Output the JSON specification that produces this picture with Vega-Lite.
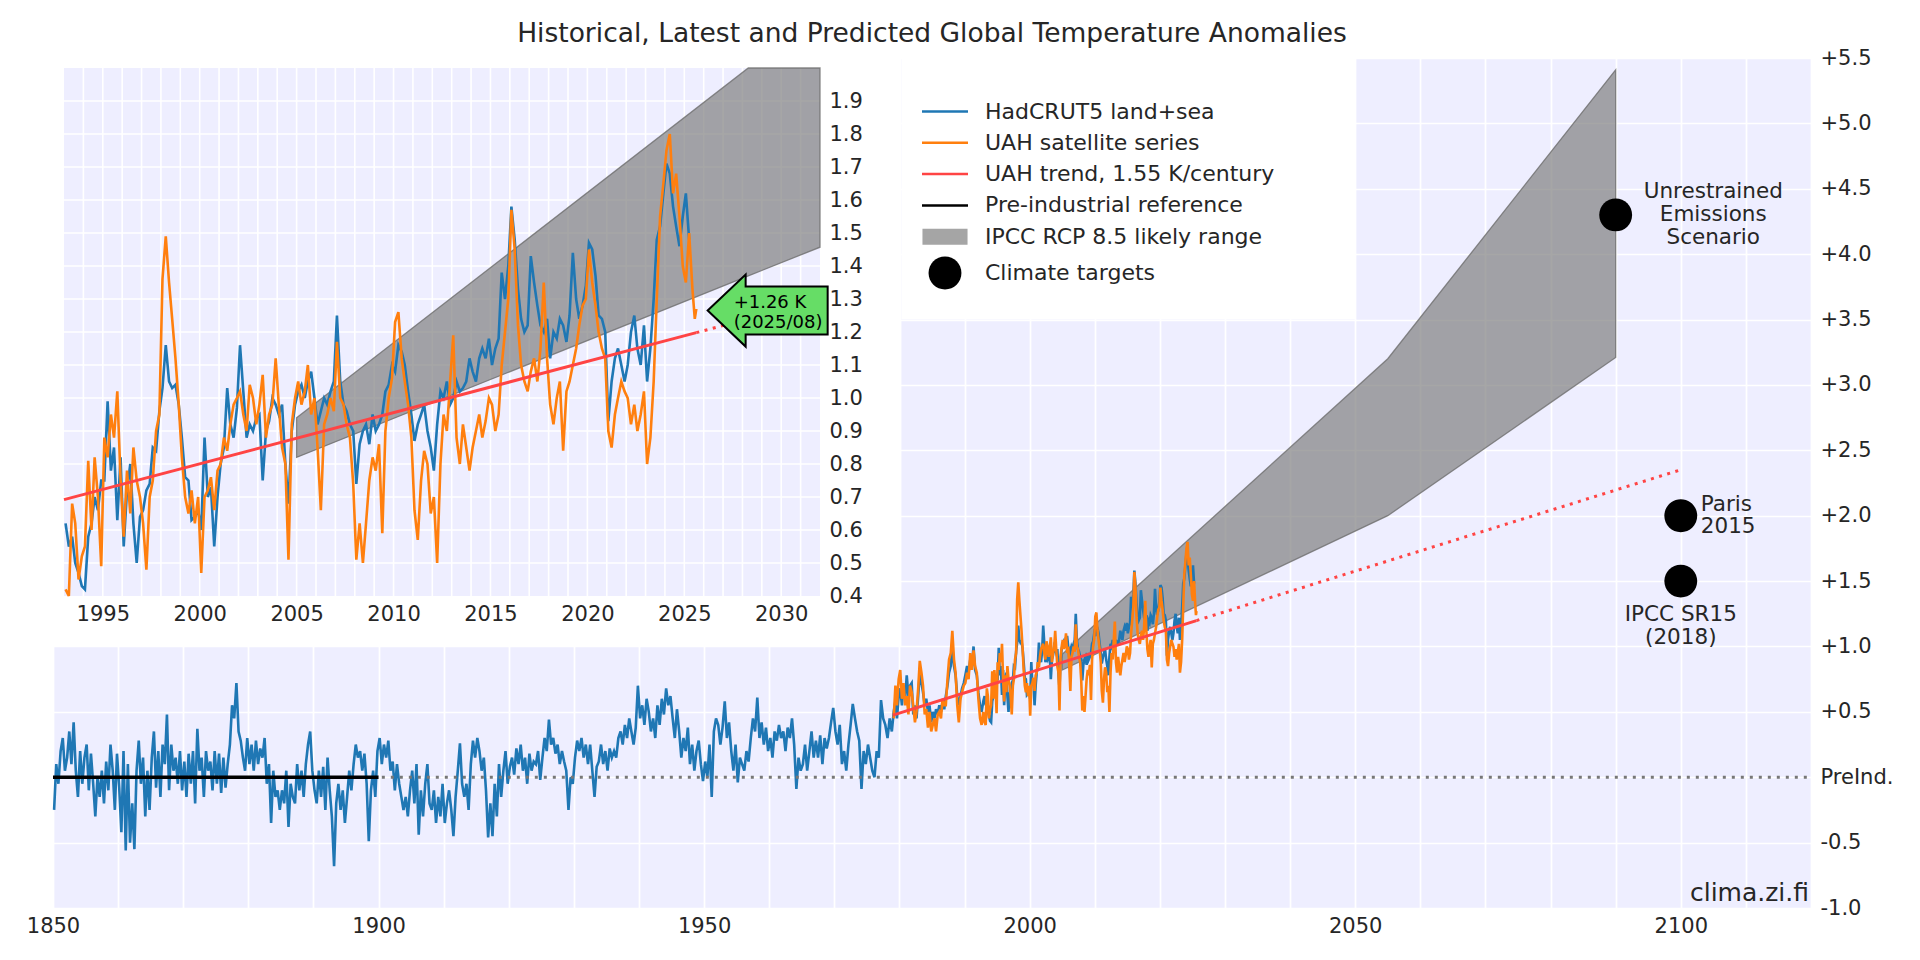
{
"$schema": "https://vega.github.io/schema/vega-lite/v6.json",
"width": 1758,
"height": 850,
"autosize": {"type": "none"},
"padding": {"left": 53, "top": 58, "right": 109, "bottom": 52},
"background": "white",
"title": {"text": "Historical, Latest and Predicted Global Temperature Anomalies", "fontSize": 26.5, "fontWeight": "normal", "color": "#262626", "font": "DejaVu Sans", "anchor": "middle", "offset": 0},
"config": {
  "view": {"stroke": null, "fill": "#eeeeff"},
  "font": "DejaVu Sans",
  "axis": {"domain": false, "ticks": false, "gridColor": "white", "gridWidth": 1.7, "gridOpacity": 1, "labelFont": "DejaVu Sans", "labelFontSize": 21, "labelColor": "#262626", "labelFlush": false, "labelOverlap": false, "labelBound": false}
},
"datasets": {
"temps": [
{"t":1850.17,"h":-0.25},{"t":1850.5,"h":0.1},{"t":1850.83,"h":-0.05},
{"t":1851.17,"h":0.2},{"t":1851.5,"h":0.3},{"t":1851.83,"h":0.05},
{"t":1852.17,"h":0.15},{"t":1852.5,"h":0.35},{"t":1852.83,"h":0.1},
{"t":1853.17,"h":0.42},{"t":1853.5,"h":0.05},{"t":1853.83,"h":-0.15},
{"t":1854.17,"h":0.2},{"t":1854.5,"h":-0.05},{"t":1854.83,"h":0.15},
{"t":1855.17,"h":0.25},{"t":1855.5,"h":-0.1},{"t":1855.83,"h":0.18},
{"t":1856.17,"h":-0.05},{"t":1856.5,"h":-0.3},{"t":1856.83,"h":0},
{"t":1857.17,"h":-0.15},{"t":1857.5,"h":0.05},{"t":1857.83,"h":-0.2},
{"t":1858.17,"h":0.12},{"t":1858.5,"h":-0.1},{"t":1858.83,"h":0.25},
{"t":1859.17,"h":0.05},{"t":1859.5,"h":-0.25},{"t":1859.83,"h":0.18},
{"t":1860.17,"h":-0.08},{"t":1860.5,"h":-0.42},{"t":1860.83,"h":0.2},
{"t":1861.17,"h":-0.56},{"t":1861.5,"h":0.1},{"t":1861.83,"h":-0.5},
{"t":1862.17,"h":-0.2},{"t":1862.5,"h":-0.55},{"t":1862.83,"h":0.05},
{"t":1863.17,"h":0.28},{"t":1863.5,"h":-0.05},{"t":1863.83,"h":0.15},
{"t":1864.17,"h":-0.3},{"t":1864.5,"h":0.05},{"t":1864.83,"h":-0.25},
{"t":1865.17,"h":0.15},{"t":1865.5,"h":0.35},{"t":1865.83,"h":-0.08},
{"t":1866.17,"h":0.2},{"t":1866.5,"h":-0.15},{"t":1866.83,"h":0.25},
{"t":1867.17,"h":0.1},{"t":1867.5,"h":0.48},{"t":1867.83,"h":-0.1},
{"t":1868.17,"h":0.25},{"t":1868.5,"h":0.05},{"t":1868.83,"h":0.15},
{"t":1869.17,"h":-0.05},{"t":1869.5,"h":0.2},{"t":1869.83,"h":-0.1},
{"t":1870.17,"h":0.12},{"t":1870.5,"h":-0.15},{"t":1870.83,"h":0.18},
{"t":1871.17,"h":-0.05},{"t":1871.5,"h":0.2},{"t":1871.83,"h":-0.2},
{"t":1872.17,"h":0.37},{"t":1872.5,"h":0.05},{"t":1872.83,"h":0.15},
{"t":1873.17,"h":-0.15},{"t":1873.5,"h":0.2},{"t":1873.83,"h":0.05},
{"t":1874.17,"h":0.12},{"t":1874.5,"h":-0.1},{"t":1874.83,"h":0.2},
{"t":1875.17,"h":-0.05},{"t":1875.5,"h":0.18},{"t":1875.83,"h":-0.12},
{"t":1876.17,"h":0.15},{"t":1876.5,"h":-0.08},{"t":1876.83,"h":0.1},
{"t":1877.17,"h":0.25},{"t":1877.5,"h":0.55},{"t":1877.83,"h":0.45},
{"t":1878.17,"h":0.72},{"t":1878.5,"h":0.35},{"t":1878.83,"h":0.28},
{"t":1879.17,"h":0.15},{"t":1879.5,"h":0.05},{"t":1879.83,"h":0.3},
{"t":1880.17,"h":0.1},{"t":1880.5,"h":0.25},{"t":1880.83,"h":0.05},
{"t":1881.17,"h":0.28},{"t":1881.5,"h":0.1},{"t":1881.83,"h":0.22},
{"t":1882.17,"h":0.15},{"t":1882.5,"h":0.3},{"t":1882.83,"h":-0.05},
{"t":1883.17,"h":0.1},{"t":1883.5,"h":-0.35},{"t":1883.83,"h":0.05},
{"t":1884.17,"h":-0.15},{"t":1884.5,"h":-0.1},{"t":1884.83,"h":-0.25},
{"t":1885.17,"h":-0.1},{"t":1885.5,"h":-0.2},{"t":1885.83,"h":0.05},
{"t":1886.17,"h":-0.38},{"t":1886.5,"h":-0.05},{"t":1886.83,"h":-0.15},
{"t":1887.17,"h":-0.2},{"t":1887.5,"h":0.1},{"t":1887.83,"h":-0.1},
{"t":1888.17,"h":0.05},{"t":1888.5,"h":-0.15},{"t":1888.83,"h":0.1},
{"t":1889.17,"h":0.25},{"t":1889.5,"h":0.35},{"t":1889.83,"h":0.05},
{"t":1890.17,"h":-0.1},{"t":1890.5,"h":-0.2},{"t":1890.83,"h":0.05},
{"t":1891.17,"h":-0.15},{"t":1891.5,"h":0.08},{"t":1891.83,"h":-0.25},
{"t":1892.17,"h":0.15},{"t":1892.5,"h":-0.1},{"t":1892.83,"h":-0.3},
{"t":1893.17,"h":-0.68},{"t":1893.5,"h":-0.2},{"t":1893.83,"h":-0.05},
{"t":1894.17,"h":-0.25},{"t":1894.5,"h":-0.1},{"t":1894.83,"h":-0.35},
{"t":1895.17,"h":-0.15},{"t":1895.5,"h":0.05},{"t":1895.83,"h":-0.1},
{"t":1896.17,"h":0.1},{"t":1896.5,"h":0.25},{"t":1896.83,"h":0.15},
{"t":1897.17,"h":0.2},{"t":1897.5,"h":0.05},{"t":1897.83,"h":0.18},
{"t":1898.17,"h":-0.05},{"t":1898.5,"h":-0.49},{"t":1898.83,"h":-0.1},
{"t":1899.17,"h":0.05},{"t":1899.5,"h":-0.15},{"t":1899.83,"h":0.2},
{"t":1900.17,"h":0.3},{"t":1900.5,"h":0.1},{"t":1900.83,"h":0.25},
{"t":1901.17,"h":0.15},{"t":1901.5,"h":0.28},{"t":1901.83,"h":0.05},
{"t":1902.17,"h":0.12},{"t":1902.5,"h":-0.1},{"t":1902.83,"h":0.1},
{"t":1903.17,"h":-0.05},{"t":1903.5,"h":-0.15},{"t":1903.83,"h":-0.25},
{"t":1904.17,"h":-0.15},{"t":1904.5,"h":-0.3},{"t":1904.83,"h":-0.1},
{"t":1905.17,"h":0.05},{"t":1905.5,"h":-0.2},{"t":1905.83,"h":0.1},
{"t":1906.17,"h":-0.44},{"t":1906.5,"h":-0.1},{"t":1906.83,"h":-0.3},
{"t":1907.17,"h":-0.05},{"t":1907.5,"h":0.1},{"t":1907.83,"h":-0.2},
{"t":1908.17,"h":-0.25},{"t":1908.5,"h":-0.1},{"t":1908.83,"h":-0.35},
{"t":1909.17,"h":-0.15},{"t":1909.5,"h":-0.3},{"t":1909.83,"h":-0.05},
{"t":1910.17,"h":-0.35},{"t":1910.5,"h":-0.2},{"t":1910.83,"h":-0.1},
{"t":1911.17,"h":-0.25},{"t":1911.5,"h":-0.45},{"t":1911.83,"h":-0.15},
{"t":1912.17,"h":0.05},{"t":1912.5,"h":0.26},{"t":1912.83,"h":-0.05},
{"t":1913.17,"h":-0.15},{"t":1913.5,"h":-0.05},{"t":1913.83,"h":-0.25},
{"t":1914.17,"h":0.1},{"t":1914.5,"h":0.28},{"t":1914.83,"h":0.15},
{"t":1915.17,"h":0.3},{"t":1915.5,"h":0.2},{"t":1915.83,"h":0.05},
{"t":1916.17,"h":0.15},{"t":1916.5,"h":-0.1},{"t":1916.83,"h":-0.46},
{"t":1917.17,"h":-0.2},{"t":1917.5,"h":-0.45},{"t":1917.83,"h":-0.05},
{"t":1918.17,"h":-0.3},{"t":1918.5,"h":0.1},{"t":1918.83,"h":-0.15},
{"t":1919.17,"h":0.05},{"t":1919.5,"h":0.2},{"t":1919.83,"h":-0.05},
{"t":1920.17,"h":0.08},{"t":1920.5,"h":0.15},{"t":1920.83,"h":0.02},
{"t":1921.17,"h":0.22},{"t":1921.5,"h":0.1},{"t":1921.83,"h":0.25},
{"t":1922.17,"h":0.05},{"t":1922.5,"h":0.15},{"t":1922.83,"h":-0.05},
{"t":1923.17,"h":0.18},{"t":1923.5,"h":0.05},{"t":1923.83,"h":0.12},
{"t":1924.17,"h":0.1},{"t":1924.5,"h":0.2},{"t":1924.83,"h":-0.02},
{"t":1925.17,"h":0.15},{"t":1925.5,"h":0.3},{"t":1925.83,"h":0.2},
{"t":1926.17,"h":0.44},{"t":1926.5,"h":0.25},{"t":1926.83,"h":0.3},
{"t":1927.17,"h":0.18},{"t":1927.5,"h":0.25},{"t":1927.83,"h":0.1},
{"t":1928.17,"h":0.2},{"t":1928.5,"h":0.12},{"t":1928.83,"h":0.05},
{"t":1929.17,"h":-0.25},{"t":1929.5,"h":0},{"t":1929.83,"h":-0.05},
{"t":1930.17,"h":0.15},{"t":1930.5,"h":0.28},{"t":1930.83,"h":0.2},
{"t":1931.17,"h":0.3},{"t":1931.5,"h":0.15},{"t":1931.83,"h":0.25},
{"t":1932.17,"h":0.1},{"t":1932.5,"h":0.25},{"t":1932.83,"h":0.05},
{"t":1933.17,"h":-0.15},{"t":1933.5,"h":0.08},{"t":1933.83,"h":0.12},
{"t":1934.17,"h":0.25},{"t":1934.5,"h":0.1},{"t":1934.83,"h":0.2},
{"t":1935.17,"h":0.05},{"t":1935.5,"h":0.22},{"t":1935.83,"h":0.15},
{"t":1936.17,"h":0.2},{"t":1936.5,"h":0.15},{"t":1936.83,"h":0.3},
{"t":1937.17,"h":0.35},{"t":1937.5,"h":0.25},{"t":1937.83,"h":0.4},
{"t":1938.17,"h":0.3},{"t":1938.5,"h":0.45},{"t":1938.83,"h":0.35},
{"t":1939.17,"h":0.25},{"t":1939.5,"h":0.38},{"t":1939.83,"h":0.7},
{"t":1940.17,"h":0.45},{"t":1940.5,"h":0.55},{"t":1940.83,"h":0.4},
{"t":1941.17,"h":0.6},{"t":1941.5,"h":0.5},{"t":1941.83,"h":0.35},
{"t":1942.17,"h":0.45},{"t":1942.5,"h":0.3},{"t":1942.83,"h":0.55},
{"t":1943.17,"h":0.4},{"t":1943.5,"h":0.6},{"t":1943.83,"h":0.48},
{"t":1944.17,"h":0.68},{"t":1944.5,"h":0.55},{"t":1944.83,"h":0.62},
{"t":1945.17,"h":0.45},{"t":1945.5,"h":0.3},{"t":1945.83,"h":0.52},
{"t":1946.17,"h":0.35},{"t":1946.5,"h":0.15},{"t":1946.83,"h":0.3},
{"t":1947.17,"h":0.2},{"t":1947.5,"h":0.38},{"t":1947.83,"h":0.1},
{"t":1948.17,"h":0.25},{"t":1948.5,"h":0.05},{"t":1948.83,"h":0.2},
{"t":1949.17,"h":0.28},{"t":1949.5,"h":0.1},{"t":1949.83,"h":-0.03},
{"t":1950.17,"h":0.12},{"t":1950.5,"h":0},{"t":1950.83,"h":0.25},
{"t":1951.17,"h":-0.15},{"t":1951.5,"h":0.35},{"t":1951.83,"h":0.45},
{"t":1952.17,"h":0.4},{"t":1952.5,"h":0.25},{"t":1952.83,"h":0.38},
{"t":1953.17,"h":0.58},{"t":1953.5,"h":0.3},{"t":1953.83,"h":0.42},
{"t":1954.17,"h":0.2},{"t":1954.5,"h":0.05},{"t":1954.83,"h":0.25},
{"t":1955.17,"h":-0.04},{"t":1955.5,"h":0.15},{"t":1955.83,"h":0.1},
{"t":1956.17,"h":0.05},{"t":1956.5,"h":0.2},{"t":1956.83,"h":0.12},
{"t":1957.17,"h":0.3},{"t":1957.5,"h":0.45},{"t":1957.83,"h":0.35},
{"t":1958.17,"h":0.61},{"t":1958.5,"h":0.3},{"t":1958.83,"h":0.42},
{"t":1959.17,"h":0.25},{"t":1959.5,"h":0.38},{"t":1959.83,"h":0.2},
{"t":1960.17,"h":0.3},{"t":1960.5,"h":0.15},{"t":1960.83,"h":0.35},
{"t":1961.17,"h":0.28},{"t":1961.5,"h":0.4},{"t":1961.83,"h":0.3},
{"t":1962.17,"h":0.35},{"t":1962.5,"h":0.2},{"t":1962.83,"h":0.38},
{"t":1963.17,"h":0.3},{"t":1963.5,"h":0.45},{"t":1963.83,"h":0.25},
{"t":1964.17,"h":-0.09},{"t":1964.5,"h":0.15},{"t":1964.83,"h":0.05},
{"t":1965.17,"h":0.1},{"t":1965.5,"h":0.25},{"t":1965.83,"h":0.05},
{"t":1966.17,"h":0.2},{"t":1966.5,"h":0.35},{"t":1966.83,"h":0.15},
{"t":1967.17,"h":0.28},{"t":1967.5,"h":0.15},{"t":1967.83,"h":0.32},
{"t":1968.17,"h":0.1},{"t":1968.5,"h":0.3},{"t":1968.83,"h":0.22},
{"t":1969.17,"h":0.3},{"t":1969.5,"h":0.42},{"t":1969.83,"h":0.53},
{"t":1970.17,"h":0.35},{"t":1970.5,"h":0.25},{"t":1970.83,"h":0.4},
{"t":1971.17,"h":0.1},{"t":1971.5,"h":0.2},{"t":1971.83,"h":0.05},
{"t":1972.17,"h":0.25},{"t":1972.5,"h":0.4},{"t":1972.83,"h":0.56},
{"t":1973.17,"h":0.45},{"t":1973.5,"h":0.35},{"t":1973.83,"h":0.28},
{"t":1974.17,"h":-0.09},{"t":1974.5,"h":0.2},{"t":1974.83,"h":0.1},
{"t":1975.17,"h":0.25},{"t":1975.5,"h":0.15},{"t":1975.83,"h":0.05},
{"t":1976.17,"h":0},{"t":1976.5,"h":0.2},{"t":1976.83,"h":0.15},
{"t":1977.17,"h":0.59},{"t":1977.5,"h":0.45},{"t":1977.83,"h":0.4},
{"t":1978.17,"h":0.3},{"t":1978.5,"h":0.45},{"t":1978.83,"h":0.35},
{"t":1979.12,"h":0.5,"u":0.45},{"t":1979.38,"h":0.58,"u":0.7},{"t":1979.62,"h":0.45,"u":0.55},{"t":1979.88,"h":0.62,"u":0.75},
{"t":1980.12,"h":0.68,"u":0.82},{"t":1980.38,"h":0.55,"u":0.6},{"t":1980.62,"h":0.7,"u":0.72},{"t":1980.88,"h":0.6,"u":0.55},
{"t":1981.12,"h":0.78,"u":0.62},{"t":1981.38,"h":0.62,"u":0.48},{"t":1981.62,"h":0.7,"u":0.7},{"t":1981.88,"h":0.72,"u":0.65},
{"t":1982.12,"h":0.48,"u":0.55},{"t":1982.38,"h":0.55,"u":0.42},{"t":1982.62,"h":0.45,"u":0.5},{"t":1982.88,"h":0.62,"u":0.68},
{"t":1983.12,"h":0.8,"u":0.89},{"t":1983.38,"h":0.72,"u":0.8},{"t":1983.62,"h":0.65,"u":0.7},{"t":1983.88,"h":0.55,"u":0.48},
{"t":1984.12,"h":0.6,"u":0.52},{"t":1984.38,"h":0.5,"u":0.38},{"t":1984.62,"h":0.55,"u":0.5},{"t":1984.88,"h":0.42,"u":0.35},
{"t":1985.12,"h":0.5,"u":0.4},{"t":1985.38,"h":0.45,"u":0.45},{"t":1985.62,"h":0.52,"u":0.35},{"t":1985.88,"h":0.48,"u":0.48},
{"t":1986.12,"h":0.55,"u":0.5},{"t":1986.38,"h":0.5,"u":0.45},{"t":1986.62,"h":0.58,"u":0.6},{"t":1986.88,"h":0.52,"u":0.55},
{"t":1987.12,"h":0.62,"u":0.55},{"t":1987.38,"h":0.7,"u":0.75},{"t":1987.62,"h":0.8,"u":0.9},{"t":1987.88,"h":0.85,"u":0.95},
{"t":1988.12,"h":1.0,"u":1.12},{"t":1988.38,"h":0.85,"u":0.9},{"t":1988.62,"h":0.78,"u":0.8},{"t":1988.88,"h":0.62,"u":0.55},
{"t":1989.12,"h":0.55,"u":0.42},{"t":1989.38,"h":0.62,"u":0.6},{"t":1989.62,"h":0.68,"u":0.65},{"t":1989.88,"h":0.72,"u":0.7},
{"t":1990.12,"h":0.78,"u":0.72},{"t":1990.38,"h":0.85,"u":0.8},{"t":1990.62,"h":0.8,"u":0.75},{"t":1990.88,"h":0.9,"u":0.95},
{"t":1991.12,"h":0.85,"u":0.82},{"t":1991.38,"h":1.0,"u":0.97},{"t":1991.62,"h":0.82,"u":0.85},{"t":1991.88,"h":0.78,"u":0.8},
{"t":1992.12,"h":0.65,"u":0.6},{"t":1992.38,"h":0.55,"u":0.45},{"t":1992.62,"h":0.5,"u":0.4},{"t":1992.88,"h":0.58,"u":0.5},
{"t":1993.08,"h":0.62,"u":0.42},{"t":1993.25,"h":0.55,"u":0.4},{"t":1993.42,"h":0.58,"u":0.68},{"t":1993.58,"h":0.5,"u":0.62},{"t":1993.75,"h":0.47,"u":0.45},{"t":1993.92,"h":0.43,"u":0.52},
{"t":1994.08,"h":0.42,"u":0.55},{"t":1994.25,"h":0.58,"u":0.81},{"t":1994.42,"h":0.62,"u":0.6},{"t":1994.58,"h":0.7,"u":0.82},{"t":1994.75,"h":0.66,"u":0.7},{"t":1994.92,"h":0.75,"u":0.49},
{"t":1995.08,"h":0.75,"u":0.88},{"t":1995.25,"h":0.99,"u":0.82},{"t":1995.42,"h":0.78,"u":0.95},{"t":1995.58,"h":0.85,"u":0.88},{"t":1995.75,"h":0.63,"u":1.02},{"t":1995.92,"h":0.82,"u":0.75},
{"t":1996.08,"h":0.55,"u":0.58},{"t":1996.25,"h":0.72,"u":0.78},{"t":1996.42,"h":0.8,"u":0.65},{"t":1996.58,"h":0.62,"u":0.85},{"t":1996.75,"h":0.5,"u":0.75},{"t":1996.92,"h":0.64,"u":0.7},
{"t":1997.08,"h":0.66,"u":0.62},{"t":1997.25,"h":0.72,"u":0.48},{"t":1997.42,"h":0.74,"u":0.7},{"t":1997.58,"h":0.85,"u":0.75},{"t":1997.75,"h":0.84,"u":0.9},{"t":1997.92,"h":0.96,"u":0.95},
{"t":1998.08,"h":1.03,"u":1.36},{"t":1998.25,"h":1.16,"u":1.49},{"t":1998.42,"h":1.05,"u":1.35},{"t":1998.58,"h":1.03,"u":1.24},{"t":1998.75,"h":1.04,"u":1.12},{"t":1998.92,"h":0.98,"u":0.98},
{"t":1999.08,"h":0.88,"u":0.82},{"t":1999.25,"h":0.76,"u":0.7},{"t":1999.42,"h":0.75,"u":0.65},{"t":1999.58,"h":0.63,"u":0.72},{"t":1999.75,"h":0.64,"u":0.62},{"t":1999.92,"h":0.66,"u":0.7},
{"t":2000.08,"h":0.6,"u":0.47},{"t":2000.25,"h":0.88,"u":0.7},{"t":2000.42,"h":0.7,"u":0.72},{"t":2000.58,"h":0.73,"u":0.76},{"t":2000.75,"h":0.55,"u":0.66},{"t":2000.92,"h":0.7,"u":0.78},
{"t":2001.08,"h":0.8,"u":0.8},{"t":2001.25,"h":0.85,"u":0.88},{"t":2001.42,"h":1.03,"u":0.84},{"t":2001.58,"h":0.92,"u":0.92},{"t":2001.75,"h":0.88,"u":0.98},{"t":2001.92,"h":0.97,"u":1.0},
{"t":2002.08,"h":1.16,"u":1.02},{"t":2002.25,"h":1.02,"u":0.95},{"t":2002.42,"h":0.88,"u":0.9},{"t":2002.58,"h":0.92,"u":1.04},{"t":2002.75,"h":0.9,"u":1.0},{"t":2002.92,"h":0.94,"u":0.92},
{"t":2003.08,"h":0.95,"u":0.98},{"t":2003.25,"h":0.75,"u":1.07},{"t":2003.42,"h":0.9,"u":0.88},{"t":2003.58,"h":0.93,"u":0.95},{"t":2003.75,"h":1.0,"u":0.98},{"t":2003.92,"h":0.98,"u":1.12},
{"t":2004.08,"h":0.95,"u":0.98},{"t":2004.25,"h":0.98,"u":0.85},{"t":2004.42,"h":0.8,"u":0.8},{"t":2004.58,"h":0.68,"u":0.51},{"t":2004.75,"h":0.9,"u":0.92},{"t":2004.92,"h":0.98,"u":1.0},
{"t":2005.08,"h":1.02,"u":1.05},{"t":2005.25,"h":1.04,"u":0.98},{"t":2005.42,"h":1.0,"u":1.02},{"t":2005.58,"h":1.05,"u":1.1},{"t":2005.75,"h":1.08,"u":0.95},{"t":2005.92,"h":1.0,"u":1.0},
{"t":2006.08,"h":0.92,"u":0.85},{"t":2006.25,"h":0.96,"u":0.66},{"t":2006.42,"h":1.0,"u":0.92},{"t":2006.58,"h":0.98,"u":0.95},{"t":2006.75,"h":1.02,"u":1.0},{"t":2006.92,"h":1.05,"u":0.96},
{"t":2007.08,"h":1.25,"u":1.17},{"t":2007.25,"h":1.05,"u":1.0},{"t":2007.42,"h":0.98,"u":0.98},{"t":2007.58,"h":0.96,"u":0.92},{"t":2007.75,"h":0.92,"u":0.88},{"t":2007.92,"h":0.9,"u":0.74},
{"t":2008.08,"h":0.74,"u":0.51},{"t":2008.25,"h":0.86,"u":0.62},{"t":2008.42,"h":0.9,"u":0.5},{"t":2008.58,"h":0.92,"u":0.62},{"t":2008.75,"h":0.86,"u":0.75},{"t":2008.92,"h":0.95,"u":0.82},
{"t":2009.08,"h":0.9,"u":0.78},{"t":2009.25,"h":0.92,"u":0.86},{"t":2009.42,"h":0.95,"u":0.59},{"t":2009.58,"h":1.02,"u":0.9},{"t":2009.75,"h":1.04,"u":1.0},{"t":2009.92,"h":1.1,"u":1.06},
{"t":2010.08,"h":1.08,"u":1.23},{"t":2010.25,"h":1.16,"u":1.26},{"t":2010.42,"h":1.14,"u":1.12},{"t":2010.58,"h":1.1,"u":1.05},{"t":2010.75,"h":1.02,"u":0.98},{"t":2010.92,"h":0.95,"u":0.88},
{"t":2011.08,"h":0.87,"u":0.66},{"t":2011.25,"h":0.92,"u":0.57},{"t":2011.42,"h":0.95,"u":0.75},{"t":2011.58,"h":0.98,"u":0.84},{"t":2011.75,"h":0.9,"u":0.8},{"t":2011.92,"h":0.85,"u":0.65},
{"t":2012.08,"h":0.78,"u":0.7},{"t":2012.25,"h":0.92,"u":0.5},{"t":2012.42,"h":1.02,"u":0.8},{"t":2012.58,"h":1.0,"u":0.95},{"t":2012.75,"h":1.05,"u":0.9},{"t":2012.92,"h":0.98,"u":1.05},
{"t":2013.08,"h":1.0,"u":1.19},{"t":2013.25,"h":1.05,"u":0.88},{"t":2013.42,"h":1.02,"u":0.8},{"t":2013.58,"h":1.03,"u":0.92},{"t":2013.75,"h":1.05,"u":0.85},{"t":2013.92,"h":1.12,"u":0.78},
{"t":2014.08,"h":1.08,"u":0.85},{"t":2014.25,"h":1.05,"u":0.9},{"t":2014.42,"h":1.12,"u":0.95},{"t":2014.58,"h":1.15,"u":0.88},{"t":2014.75,"h":1.12,"u":0.93},{"t":2014.92,"h":1.18,"u":1.0},
{"t":2015.08,"h":1.1,"u":0.98},{"t":2015.25,"h":1.15,"u":0.9},{"t":2015.42,"h":1.18,"u":0.95},{"t":2015.58,"h":1.38,"u":1.1},{"t":2015.75,"h":1.3,"u":1.2},{"t":2015.92,"h":1.4,"u":1.3},
{"t":2016.08,"h":1.58,"u":1.57},{"t":2016.25,"h":1.48,"u":1.45},{"t":2016.42,"h":1.33,"u":1.22},{"t":2016.58,"h":1.24,"u":1.1},{"t":2016.75,"h":1.2,"u":1.05},{"t":2016.92,"h":1.22,"u":1.02},
{"t":2017.08,"h":1.43,"u":1.08},{"t":2017.25,"h":1.35,"u":1.12},{"t":2017.42,"h":1.28,"u":1.05},{"t":2017.58,"h":1.22,"u":1.15},{"t":2017.75,"h":1.2,"u":1.35},{"t":2017.92,"h":1.24,"u":1.12},
{"t":2018.08,"h":1.12,"u":0.98},{"t":2018.25,"h":1.2,"u":0.92},{"t":2018.42,"h":1.18,"u":1.0},{"t":2018.58,"h":1.24,"u":1.05},{"t":2018.75,"h":1.22,"u":0.84},{"t":2018.92,"h":1.17,"u":1.02},
{"t":2019.08,"h":1.25,"u":1.05},{"t":2019.25,"h":1.44,"u":1.1},{"t":2019.42,"h":1.3,"u":1.15},{"t":2019.58,"h":1.24,"u":1.22},{"t":2019.75,"h":1.28,"u":1.28},{"t":2019.92,"h":1.34,"u":1.3},
{"t":2020.08,"h":1.47,"u":1.45},{"t":2020.25,"h":1.45,"u":1.35},{"t":2020.42,"h":1.37,"u":1.28},{"t":2020.58,"h":1.25,"u":1.2},{"t":2020.75,"h":1.24,"u":1.15},{"t":2020.92,"h":1.2,"u":1.12},
{"t":2021.08,"h":0.93,"u":0.9},{"t":2021.25,"h":1.05,"u":0.85},{"t":2021.42,"h":1.12,"u":0.95},{"t":2021.58,"h":1.15,"u":1.0},{"t":2021.75,"h":1.1,"u":1.05},{"t":2021.92,"h":1.05,"u":1.02},
{"t":2022.08,"h":1.1,"u":1.0},{"t":2022.25,"h":1.2,"u":0.92},{"t":2022.42,"h":1.25,"u":0.98},{"t":2022.58,"h":1.15,"u":0.9},{"t":2022.75,"h":1.1,"u":0.95},{"t":2022.92,"h":1.22,"u":1.02},
{"t":2023.08,"h":1.05,"u":0.8},{"t":2023.25,"h":1.15,"u":0.88},{"t":2023.42,"h":1.3,"u":1.05},{"t":2023.58,"h":1.48,"u":1.3},{"t":2023.75,"h":1.52,"u":1.55},{"t":2023.92,"h":1.62,"u":1.65},
{"t":2024.08,"h":1.71,"u":1.75},{"t":2024.25,"h":1.68,"u":1.8},{"t":2024.42,"h":1.58,"u":1.62},{"t":2024.58,"h":1.52,"u":1.68},{"t":2024.75,"h":1.46,"u":1.55},{"t":2024.92,"h":1.55,"u":1.4},
{"t":2025.08,"h":1.62,"u":1.35},{"t":2025.25,"h":1.48,"u":1.5},{"t":2025.42,"u":1.33},{"t":2025.54,"u":1.24},{"t":2025.62,"u":1.27}
],
"rcp": [{"t":2005,"lo":0.82,"hi":0.94},{"t":2055,"lo":2.0,"hi":3.2},{"t":2090,"lo":3.21,"hi":5.41}],
"rcpi": [{"t":2005,"lo":0.82,"hi":0.94},{"t":2028.3,"lo":1.37,"hi":2.0},{"t":2032,"lo":1.457,"hi":2.0}],
"trend": [{"t":1979,"v":0.475},{"t":1993,"v":0.692},{"t":2025.62,"v":1.198},{"t":2028,"v":1.235},{"t":2100,"v":2.351}],
"targets": [
{"t":2090,"v":4.3,"series":"Climate targets","label":"Unrestrained\nEmissions\nScenario"},
{"t":2100,"v":2.0,"series":"Climate targets","label":"Paris\n2015"},
{"t":2100,"v":1.5,"series":"Climate targets","label":"IPCC SR15\n(2018)"}
],
"note": [{"t":2029.3,"v":1.265,"label":"+1.26 K\n(2025/08)"}],
"igx": [{"g":1994},{"g":1995},{"g":1996},{"g":1997},{"g":1998},{"g":1999},{"g":2000},{"g":2001},{"g":2002},{"g":2003},{"g":2004},{"g":2005},{"g":2006},{"g":2007},{"g":2008},{"g":2009},{"g":2010},{"g":2011},{"g":2012},{"g":2013},{"g":2014},{"g":2015},{"g":2016},{"g":2017},{"g":2018},{"g":2019},{"g":2020},{"g":2021},{"g":2022},{"g":2023},{"g":2024},{"g":2025},{"g":2026},{"g":2027},{"g":2028},{"g":2029},{"g":2030},{"g":2031}],
"igy": [{"g":0.5},{"g":0.6},{"g":0.7},{"g":0.8},{"g":0.9},{"g":1.0},{"g":1.1},{"g":1.2},{"g":1.3},{"g":1.4},{"g":1.5},{"g":1.6},{"g":1.7},{"g":1.8},{"g":1.9}]
},
"layer": [
{
"layer": [
{"data": {"values": [{}]}, "mark": {"type": "rect", "fill": "white", "strokeWidth": 0},
 "encoding": {"x": {"datum": 1850, "type": "quantitative"}, "x2": {"datum": 1980.3}, "y": {"datum": 1.0, "type": "quantitative"}, "y2": {"datum": 5.5}}},
{"data": {"values": [{}]}, "mark": {"type": "rect", "fill": "white", "strokeWidth": 0},
 "encoding": {"x": {"datum": 1980.3, "type": "quantitative"}, "x2": {"datum": 2050.1}, "y": {"datum": 3.5, "type": "quantitative"}, "y2": {"datum": 5.5}}},
{"data": {"name": "rcp"}, "mark": {"type": "area", "fill": "#808080", "fillOpacity": 0.7, "stroke": "#6e6e6e", "strokeWidth": 1.3, "strokeOpacity": 0.8},
 "encoding": {"x": {"field": "t", "type": "quantitative"}, "y": {"field": "hi", "type": "quantitative"}, "y2": {"field": "lo"}}},
{"data": {"name": "temps"}, "transform": [{"filter": "isValid(datum.h)"}], "mark": {"type": "line", "color": "#1f77b4", "strokeWidth": 2.6},
 "encoding": {
  "x": {"field": "t", "type": "quantitative", "scale": {"domain": [1850, 2120], "nice": false, "zero": false},
        "axis": {"orient": "bottom", "title": null, "grid": true, "zindex": 0, "format": "d", "labelPadding": 7.5,
                 "values": [1850,1860,1870,1880,1890,1900,1910,1920,1930,1940,1950,1960,1970,1980,1990,2000,2010,2020,2030,2040,2050,2060,2070,2080,2090,2100,2110,2120],
                 "labelExpr": "datum.value % 50 == 0 && datum.value <= 2100 ? datum.label : ''"}},
  "y": {"field": "h", "type": "quantitative", "scale": {"domain": [-1, 5.5], "nice": false, "zero": false},
        "axis": {"orient": "right", "title": null, "grid": true, "zindex": 0, "labelPadding": 9,
                 "values": [-1,-0.5,0,0.5,1,1.5,2,2.5,3,3.5,4,4.5,5,5.5],
                 "labelExpr": "datum.value == 0 ? 'PreInd.' : (datum.value < 0 ? '-' : '+') + format(abs(datum.value), '.1f')"}}}},
{"data": {"name": "temps"}, "transform": [{"filter": "isValid(datum.u)"}], "mark": {"type": "line", "color": "#ff7f0e", "strokeWidth": 2.6},
 "encoding": {"x": {"field": "t", "type": "quantitative"}, "y": {"field": "u", "type": "quantitative"}}},
{"data": {"values": [{}]}, "mark": {"type": "rule", "color": "#000000", "strokeWidth": 3.3},
 "encoding": {"x": {"datum": 1850, "type": "quantitative"}, "x2": {"datum": 1900}, "y": {"datum": 0, "type": "quantitative"}}},
{"data": {"values": [{}]}, "mark": {"type": "rule", "color": "#777777", "strokeWidth": 3, "strokeDash": [3, 6]},
 "encoding": {"x": {"datum": 1900.5, "type": "quantitative"}, "x2": {"datum": 2120}, "y": {"datum": 0, "type": "quantitative"}}},
{"data": {"name": "trend"}, "transform": [{"filter": "datum.t <= 2025.62"}], "mark": {"type": "line", "color": "#ff4444", "strokeWidth": 3},
 "encoding": {"x": {"field": "t", "type": "quantitative"}, "y": {"field": "v", "type": "quantitative"}}},
{"data": {"name": "trend"}, "transform": [{"filter": "datum.t >= 2025.62"}], "mark": {"type": "line", "color": "#ff4444", "strokeWidth": 3, "strokeDash": [3, 5.5]},
 "encoding": {"x": {"field": "t", "type": "quantitative"}, "y": {"field": "v", "type": "quantitative"}}},
{"data": {"name": "targets"}, "mark": {"type": "point", "filled": true, "size": 529, "opacity": 1, "strokeWidth": 0},
 "encoding": {"x": {"field": "t", "type": "quantitative"}, "y": {"field": "v", "type": "quantitative"},
  "color": {"field": "series", "type": "nominal",
    "scale": {"domain": ["HadCRUT5 land+sea","UAH satellite series","UAH trend, 1.55 K/century","Pre-industrial reference","IPCC RCP 8.5 likely range","Climate targets"],
              "range": ["#1f77b4","#ff7f0e","#ff4444","#000000","#a5a5a5","#000000"]},
    "legend": {"title": null, "orient": "none", "legendX": 880.5, "legendY": 42, "direction": "vertical", "labelFontSize": 22, "labelColor": "#262626", "labelFont": "DejaVu Sans", "labelLimit": 600, "labelOffset": 28.5, "symbolSize": 529, "symbolStrokeWidth": 0, "symbolOpacity": 1, "rowPadding": 8.3, "padding": 0}},
  "shape": {"field": "series", "type": "nominal",
    "scale": {"domain": ["HadCRUT5 land+sea","UAH satellite series","UAH trend, 1.55 K/century","Pre-industrial reference","IPCC RCP 8.5 likely range","Climate targets"],
              "range": ["M -2 -0.11 L 2 -0.11 L 2 0.11 L -2 0.11 Z","M -2 -0.11 L 2 -0.11 L 2 0.11 L -2 0.11 Z","M -2 -0.11 L 2 -0.11 L 2 0.11 L -2 0.11 Z","M -2 -0.11 L 2 -0.11 L 2 0.11 L -2 0.11 Z","M -1.96 -0.7 L 1.96 -0.7 L 1.96 0.7 L -1.96 0.7 Z","M -1.43 0 A 1.43 1.43 0 1 0 1.43 0 A 1.43 1.43 0 1 0 -1.43 0 Z"]},
    "legend": {"title": null, "orient": "none", "legendX": 880.5, "legendY": 42, "direction": "vertical", "labelFontSize": 22, "labelColor": "#262626", "labelFont": "DejaVu Sans", "labelLimit": 600, "labelOffset": 28.5, "symbolSize": 529, "symbolStrokeWidth": 0, "symbolOpacity": 1, "rowPadding": 8.3, "padding": 0}}}},
{"data": {"name": "targets"}, "transform": [{"filter": "datum.t == 2090"}],
 "mark": {"type": "text", "align": "center", "baseline": "middle", "dx": 97.6, "dy": -23.3, "lineBreak": "\n", "lineHeight": 23, "fontSize": 21.5, "color": "#262626", "font": "DejaVu Sans"},
 "encoding": {"x": {"field": "t", "type": "quantitative"}, "y": {"field": "v", "type": "quantitative"}, "text": {"field": "label"}}},
{"data": {"name": "targets"}, "transform": [{"filter": "datum.v == 2"}],
 "mark": {"type": "text", "align": "left", "baseline": "middle", "dx": 20, "dy": -11.1, "lineBreak": "\n", "lineHeight": 22.5, "fontSize": 21.5, "color": "#262626", "font": "DejaVu Sans"},
 "encoding": {"x": {"field": "t", "type": "quantitative"}, "y": {"field": "v", "type": "quantitative"}, "text": {"field": "label"}}},
{"data": {"name": "targets"}, "transform": [{"filter": "datum.v == 1.5"}],
 "mark": {"type": "text", "align": "center", "baseline": "middle", "dx": 0, "dy": 33.5, "lineBreak": "\n", "lineHeight": 23, "fontSize": 21.5, "color": "#262626", "font": "DejaVu Sans"},
 "encoding": {"x": {"field": "t", "type": "quantitative"}, "y": {"field": "v", "type": "quantitative"}, "text": {"field": "label"}}},
{"data": {"values": [{}]},
 "mark": {"type": "text", "align": "right", "baseline": "alphabetic", "dx": -2, "dy": -7, "fontSize": 25, "color": "#262626", "font": "DejaVu Sans"},
 "encoding": {"x": {"datum": 2120, "type": "quantitative"}, "y": {"datum": -1, "type": "quantitative"}, "text": {"value": "clima.zi.fi"}}}
]
},
{
"layer": [
{"data": {"values": [{}]}, "mark": {"type": "rect", "fill": "#eeeeff", "strokeWidth": 0},
 "encoding": {"x": {"datum": 1993, "type": "quantitative"}, "x2": {"datum": 2032}, "y": {"datum": 0.4, "type": "quantitative"}, "y2": {"datum": 2.0}}},
{"data": {"name": "igx"}, "mark": {"type": "rule", "color": "white", "strokeWidth": 1.6},
 "encoding": {"x": {"field": "g", "type": "quantitative"}, "y": {"datum": 0.4, "type": "quantitative"}, "y2": {"datum": 2.0}}},
{"data": {"name": "igy"}, "mark": {"type": "rule", "color": "white", "strokeWidth": 1.6},
 "encoding": {"y": {"field": "g", "type": "quantitative"}, "x": {"datum": 1993, "type": "quantitative"}, "x2": {"datum": 2032}}},
{"data": {"name": "rcpi"}, "mark": {"type": "area", "fill": "#808080", "fillOpacity": 0.7, "stroke": "#6e6e6e", "strokeWidth": 1.3, "strokeOpacity": 0.8},
 "encoding": {"x": {"field": "t", "type": "quantitative"}, "y": {"field": "hi", "type": "quantitative"}, "y2": {"field": "lo"}}},
{"data": {"name": "temps"}, "transform": [{"filter": "datum.t >= 1993 && isValid(datum.h)"}], "mark": {"type": "line", "color": "#1f77b4", "strokeWidth": 2.6},
 "encoding": {
  "x": {"field": "t", "type": "quantitative", "scale": {"domain": [1993, 2032], "range": [11, 767], "nice": false, "zero": false},
        "axis": {"orient": "bottom", "offset": -311.7, "title": null, "grid": false, "zindex": 1, "format": "d", "labelPadding": 7.3,
                 "values": [1995,2000,2005,2010,2015,2020,2025,2030]}},
  "y": {"field": "h", "type": "quantitative", "scale": {"domain": [0.4, 2.0], "range": [538, 10], "nice": false, "zero": false},
        "axis": {"orient": "right", "offset": -991, "title": null, "grid": false, "zindex": 1, "format": ".1f", "labelPadding": 9,
                 "values": [0.4,0.5,0.6,0.7,0.8,0.9,1.0,1.1,1.2,1.3,1.4,1.5,1.6,1.7,1.8,1.9]}}}},
{"data": {"name": "temps"}, "transform": [{"filter": "datum.t >= 1993 && isValid(datum.u)"}], "mark": {"type": "line", "color": "#ff7f0e", "strokeWidth": 2.6},
 "encoding": {"x": {"field": "t", "type": "quantitative"}, "y": {"field": "u", "type": "quantitative"}}},
{"data": {"name": "trend"}, "transform": [{"filter": "datum.t >= 1993 && datum.t <= 2025.62"}], "mark": {"type": "line", "color": "#ff4444", "strokeWidth": 3},
 "encoding": {"x": {"field": "t", "type": "quantitative"}, "y": {"field": "v", "type": "quantitative"}}},
{"data": {"name": "trend"}, "transform": [{"filter": "datum.t >= 2025.62 && datum.t <= 2028"}], "mark": {"type": "line", "color": "#ff4444", "strokeWidth": 3, "strokeDash": [3, 5.5]},
 "encoding": {"x": {"field": "t", "type": "quantitative"}, "y": {"field": "v", "type": "quantitative"}}},
{"data": {"name": "note"}, "mark": {"type": "point", "shape": "M -1 0 L -0.367 -0.6 L -0.367 -0.4 L 1 -0.4 L 1 0.4 L -0.367 0.4 L -0.367 0.6 Z", "filled": true, "fill": "#66dd66", "stroke": "#000000", "strokeWidth": 2, "size": 14400, "opacity": 1},
 "encoding": {"x": {"field": "t", "type": "quantitative"}, "y": {"field": "v", "type": "quantitative"}}},
{"data": {"name": "note"}, "mark": {"type": "text", "align": "left", "baseline": "middle", "dx": -34, "dy": -8, "lineBreak": "\n", "lineHeight": 20, "fontSize": 18, "color": "#000000", "font": "DejaVu Sans"},
 "encoding": {"x": {"field": "t", "type": "quantitative"}, "y": {"field": "v", "type": "quantitative"}, "text": {"field": "label"}}}
]
}
],
"resolve": {"scale": {"x": "independent", "y": "independent"}}
}
